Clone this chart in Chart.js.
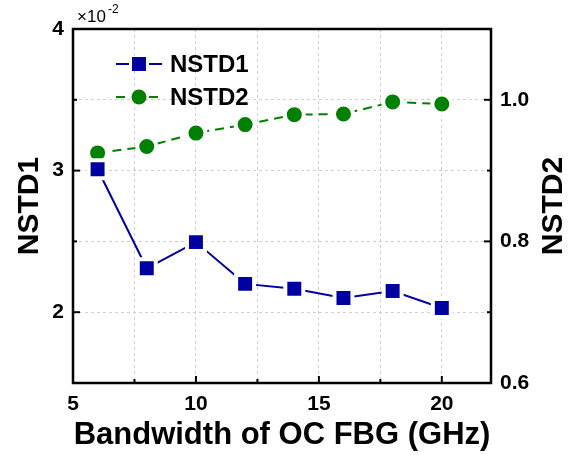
<!DOCTYPE html>
<html>
<head>
<meta charset="utf-8">
<script src="https://cdn.jsdelivr.net/npm/chart.js@4"></script>
<style>
  html, body { margin: 0; padding: 0; background: #fff; }
</style>
</head>
<body>
<canvas id="chart" width="569" height="455"></canvas>
<script>
// ── Data ────────────────────────────────────────────────────────────────────
const bandwidth = [6, 8, 10, 12, 14, 16, 18, 20];          // GHz
const nstd1     = [3.01, 2.31, 2.495, 2.20, 2.165, 2.10, 2.15, 2.03]; // ×10^-2
const nstd2     = [0.925, 0.934, 0.953, 0.965, 0.979, 0.980, 0.997, 0.994];

const xTicks  = [5, 7.5, 10, 12.5, 15, 17.5, 20];
const y1Ticks = [2, 2.5, 3, 3.5, 4];
const y2Ticks = [0.6, 0.7, 0.8, 0.9, 1.0, 1.1];

const BLUE  = '#0000A0';
const GREEN = '#008000';
const FONT  = '"Liberation Sans", Arial, sans-serif';

// ── Frame, inward ticks, legend, extra labels ───────────────────────────────
const decor = {
  id: 'decor',
  afterDatasetsDraw(chart) {
    const { ctx, chartArea: a, scales } = chart;
    ctx.save();
    ctx.strokeStyle = '#000';
    ctx.lineWidth = 2.5;
    ctx.strokeRect(a.left, a.top, a.right - a.left, a.bottom - a.top);

    ctx.lineWidth = 2;
    const seg = (x1, y1, x2, y2) => { ctx.beginPath(); ctx.moveTo(x1, y1); ctx.lineTo(x2, y2); ctx.stroke(); };
    xTicks.forEach(v => {
      const p = scales.x.getPixelForValue(v), len = v % 5 === 0 ? 7 : 4;
      seg(p, a.bottom, p, a.bottom - len);
    });
    y1Ticks.forEach(v => {
      const p = scales.y.getPixelForValue(v), len = Number.isInteger(v) ? 7 : 4;
      seg(a.left, p, a.left + len, p);
    });
    y2Ticks.forEach(v => {
      const p = scales.y1.getPixelForValue(v), len = Math.round(v * 10) % 2 === 0 ? 7 : 4;
      seg(a.right, p, a.right - len, p);
    });
    ctx.restore();
  },
  afterDraw(chart) {
    const { ctx, chartArea: a } = chart;
    ctx.save();

    // right axis title, reading bottom to top
    ctx.fillStyle = '#000';
    ctx.font = `bold 30px ${FONT}`;
    ctx.textAlign = 'center';
    ctx.textBaseline = 'middle';
    ctx.translate(554, (a.top + a.bottom) / 2);
    ctx.rotate(-Math.PI / 2);
    ctx.fillText('NSTD2', 0, 0);
    ctx.setTransform(1, 0, 0, 1, 0, 0);

    // ×10^-2 multiplier
    ctx.textAlign = 'left';
    ctx.textBaseline = 'alphabetic';
    ctx.font = `17px ${FONT}`;
    ctx.fillText('\u00d710', 77, 22);
    ctx.font = `12px ${FONT}`;
    ctx.fillText('-2', 108, 13);

    // legend
    const rows = [
      { ds: chart.data.datasets[0], y: 64 },
      { ds: chart.data.datasets[1], y: 97 },
    ];
    rows.forEach(({ ds, y }) => {
      ctx.strokeStyle = ds.borderColor;
      ctx.lineWidth = 2;
      ctx.setLineDash(ds.borderDash || []);
      ctx.beginPath();
      ctx.moveTo(116, y); ctx.lineTo(129, y);
      ctx.moveTo(149, y); ctx.lineTo(162, y);
      ctx.stroke();
      ctx.setLineDash([]);
      ctx.fillStyle = ds.pointBackgroundColor;
      if (ds.pointStyle === 'rect') {
        ctx.fillRect(132, y - 7, 14, 14);
      } else {
        ctx.beginPath(); ctx.arc(139, y, 7.5, 0, Math.PI * 2); ctx.fill();
      }
      ctx.fillStyle = '#000';
      ctx.font = `bold 24px ${FONT}`;
      ctx.textBaseline = 'middle';
      ctx.fillText(ds.label, 170, y + 1);
    });
    ctx.restore();
  }
};

// ── Chart ───────────────────────────────────────────────────────────────────
const tickFont = { family: FONT, size: 21, weight: 'bold' };

new Chart(document.getElementById('chart'), {
  type: 'line',
  data: {
    datasets: [{
      label: 'NSTD1',
      data: bandwidth.map((x, i) => ({ x, y: nstd1[i] })),
      yAxisID: 'y',
      borderColor: BLUE, backgroundColor: BLUE, borderWidth: 2,
      pointStyle: 'rect', pointRadius: 12.7,
      pointBackgroundColor: BLUE, pointBorderColor: '#fff', pointBorderWidth: 4,
    }, {
      label: 'NSTD2',
      data: bandwidth.map((x, i) => ({ x, y: nstd2[i] })),
      yAxisID: 'y1',
      borderColor: GREEN, backgroundColor: GREEN, borderWidth: 2, borderDash: [9, 6],
      pointStyle: 'circle', pointRadius: 9.5,
      pointBackgroundColor: GREEN, pointBorderColor: '#fff', pointBorderWidth: 4,
    }]
  },
  options: {
    responsive: false, animation: false, devicePixelRatio: 1,
    layout: { padding: { top: 29 } },
    plugins: { legend: { display: false }, tooltip: { enabled: false } },
    scales: {
      x: {
        type: 'linear', min: 5, max: 22,
        afterBuildTicks: s => { s.ticks = xTicks.map(value => ({ value })); },
        afterFit: s => { s.height = 72; },
        grid: { color: '#cfcfcf', lineWidth: 1, drawTicks: false },
        border: { display: false, dash: [3, 3] },
        ticks: {
          padding: 9, color: '#000', maxRotation: 0, autoSkip: false,
          font: tickFont,
          callback: v => (v % 5 === 0 ? v : ''),
        },
        title: {
          display: true, text: 'Bandwidth of OC FBG (GHz)', color: '#000',
          font: { family: FONT, size: 31, weight: 'bold', lineHeight: 1 },
          padding: { top: 0, bottom: 4 },
        },
      },
      y: {
        position: 'left', min: 1.5, max: 4,
        afterBuildTicks: s => { s.ticks = y1Ticks.map(value => ({ value })); },
        afterFit: s => { s.width = 73; },
        grid: { color: '#cfcfcf', lineWidth: 1, drawTicks: false },
        border: { display: false, dash: [3, 3] },
        ticks: {
          padding: 9, color: '#000', autoSkip: false,
          font: tickFont,
          callback: v => (Number.isInteger(v) ? v : ''),
        },
        title: {
          display: true, text: 'NSTD1', color: '#000',
          font: { family: FONT, size: 30, weight: 'bold', lineHeight: 1 },
          padding: { top: 15, bottom: 0 },
        },
      },
      y1: {
        position: 'right', min: 0.6, max: 1.1,
        afterBuildTicks: s => { s.ticks = y2Ticks.map(value => ({ value })); },
        afterFit: s => { s.width = 78; },
        grid: { display: false, drawTicks: false },
        border: { display: false },
        ticks: {
          padding: 9, color: '#000', autoSkip: false,
          font: tickFont,
          callback: v => (Math.round(v * 10) % 2 === 0 ? v.toFixed(1) : ''),
        },
      },
    },
  },
  plugins: [decor],
});
</script>
</body>
</html>
